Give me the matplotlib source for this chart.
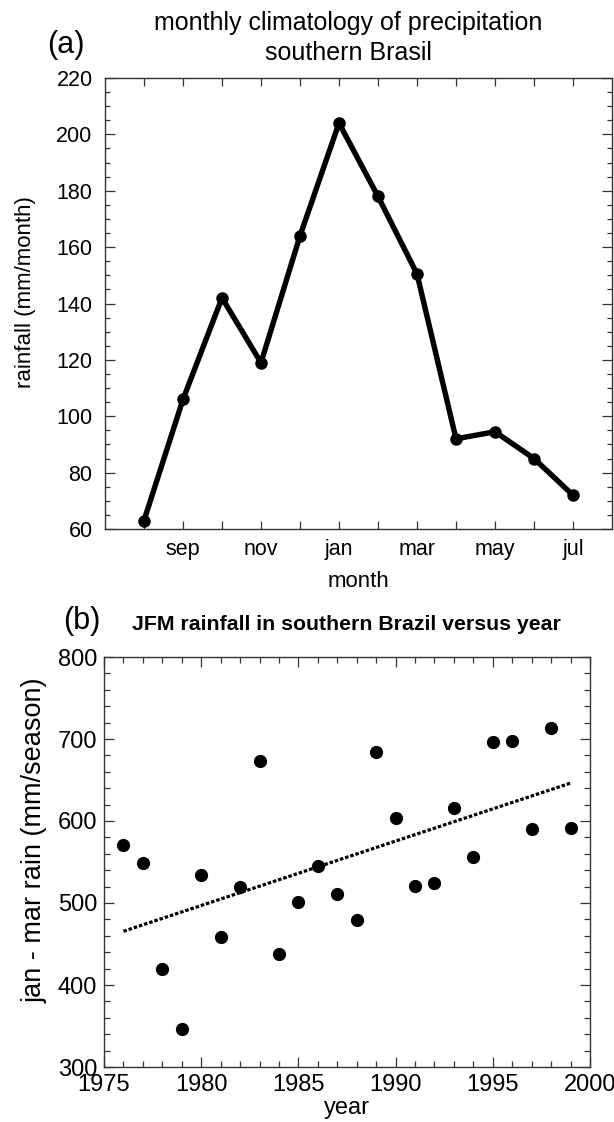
import numpy as np
import matplotlib
matplotlib.use('Agg')

import matplotlib.pyplot as plt
from matplotlib.ticker import MultipleLocator, FixedLocator

plt.rcParams['font.family'] = ['Liberation Sans', 'DejaVu Sans']

# (a) monthly climatology, aug -> jul
month_pos = [1, 2, 3, 4, 5, 6, 7, 8, 9, 10, 11, 12]
month_names = ['aug', 'sep', 'oct', 'nov', 'dec', 'jan',
               'feb', 'mar', 'apr', 'may', 'jun', 'jul']
rain_clim = [63, 106, 142, 119, 164, 204, 178, 150.5, 92, 94.5, 85, 72]

# (b) JFM rainfall per year
years = [1976, 1977, 1978, 1979, 1980, 1981, 1982, 1983, 1984, 1985, 1986, 1987,
         1988, 1989, 1990, 1991, 1992, 1993, 1994, 1995, 1996, 1997, 1998, 1999]
jfm_rain = [571, 549, 420, 346, 534, 458, 520, 673, 438, 501, 545, 511,
            479, 684, 604, 521, 525, 616, 556, 696, 698, 590, 714, 592]

W, H = 614, 1122


def style_axes(ax):
    for sp in ax.spines.values():
        sp.set_color('#333333')
        sp.set_linewidth(1.0)
    ax.tick_params(which='both', direction='in', top=True, right=True,
                   color='#333333', width=0.9)


def main():
    fig = plt.figure(figsize=(W / 100, H / 100), dpi=100)

    # ---- panel (a)
    ax1 = fig.add_axes([105 / W, 1 - 529 / H, 507 / W, 451 / H])
    ax1.plot(month_pos, rain_clim, '-o', color='k', lw=3.9, ms=8)
    ax1.set_xlim(0, 13)
    ax1.set_ylim(60, 220)
    ax1.xaxis.set_major_locator(FixedLocator(month_pos[1::2]))
    ax1.xaxis.set_minor_locator(FixedLocator(month_pos[0::2]))
    ax1.set_xticklabels(month_names[1::2])
    ax1.yaxis.set_major_locator(MultipleLocator(20))
    ax1.yaxis.set_minor_locator(MultipleLocator(5))
    style_axes(ax1)
    ax1.tick_params(axis='x', which='both', length=6, labelsize=15.5, pad=7)
    ax1.tick_params(axis='y', which='major', length=7, labelsize=15.5, pad=9)
    ax1.tick_params(axis='y', which='minor', length=3.5)
    ax1.set_xlabel('month', fontsize=16, labelpad=8)
    ax1.set_ylabel('rainfall (mm/month)', fontsize=16)
    ax1.yaxis.set_label_coords(-0.136, 0.525)

    fig.text(348 / W, 1 - 23 / H, 'monthly climatology of precipitation',
             ha='center', va='center', fontsize=18)
    fig.text(348 / W, 1 - 53 / H, 'southern Brasil',
             ha='center', va='center', fontsize=18)
    fig.text(66 / W, 1 - 45 / H, '(a)', ha='center', va='center', fontsize=22)

    # ---- panel (b)
    ax2 = fig.add_axes([104 / W, 1 - 1067 / H, 486 / W, 410 / H])
    ax2.plot(years, jfm_rain, 'o', color='k', ms=8.5)
    coef = np.polyfit(years, jfm_rain, 1)
    fit_x = np.array([years[0], years[-1]])
    ax2.plot(fit_x, np.polyval(coef, fit_x), color='k', lw=2.3,
             linestyle=(0, (1.1, 0.6)), dash_capstyle='butt')
    ax2.set_xlim(1975, 2000)
    ax2.set_ylim(300, 800)
    ax2.xaxis.set_major_locator(MultipleLocator(5))
    ax2.xaxis.set_minor_locator(MultipleLocator(1))
    ax2.yaxis.set_major_locator(MultipleLocator(100))
    ax2.yaxis.set_minor_locator(MultipleLocator(20))
    style_axes(ax2)
    ax2.tick_params(which='major', length=7, labelsize=17, pad=5)
    ax2.tick_params(which='minor', length=4)
    ax2.set_xlabel('year', fontsize=17, labelpad=1)
    ax2.set_ylabel('jan - mar rain (mm/season)', fontsize=19.5)
    ax2.yaxis.set_label_coords(-0.115, 0.554)

    fig.text(346 / W, 1 - 625 / H, 'JFM rainfall in southern Brazil versus year',
             ha='center', va='center', fontsize=15.3, fontweight='bold')
    fig.text(82 / W, 1 - 621 / H, '(b)', ha='center', va='center', fontsize=22)

    fig.savefig('out.png', dpi=100)


if __name__ == '__main__':
    main()
